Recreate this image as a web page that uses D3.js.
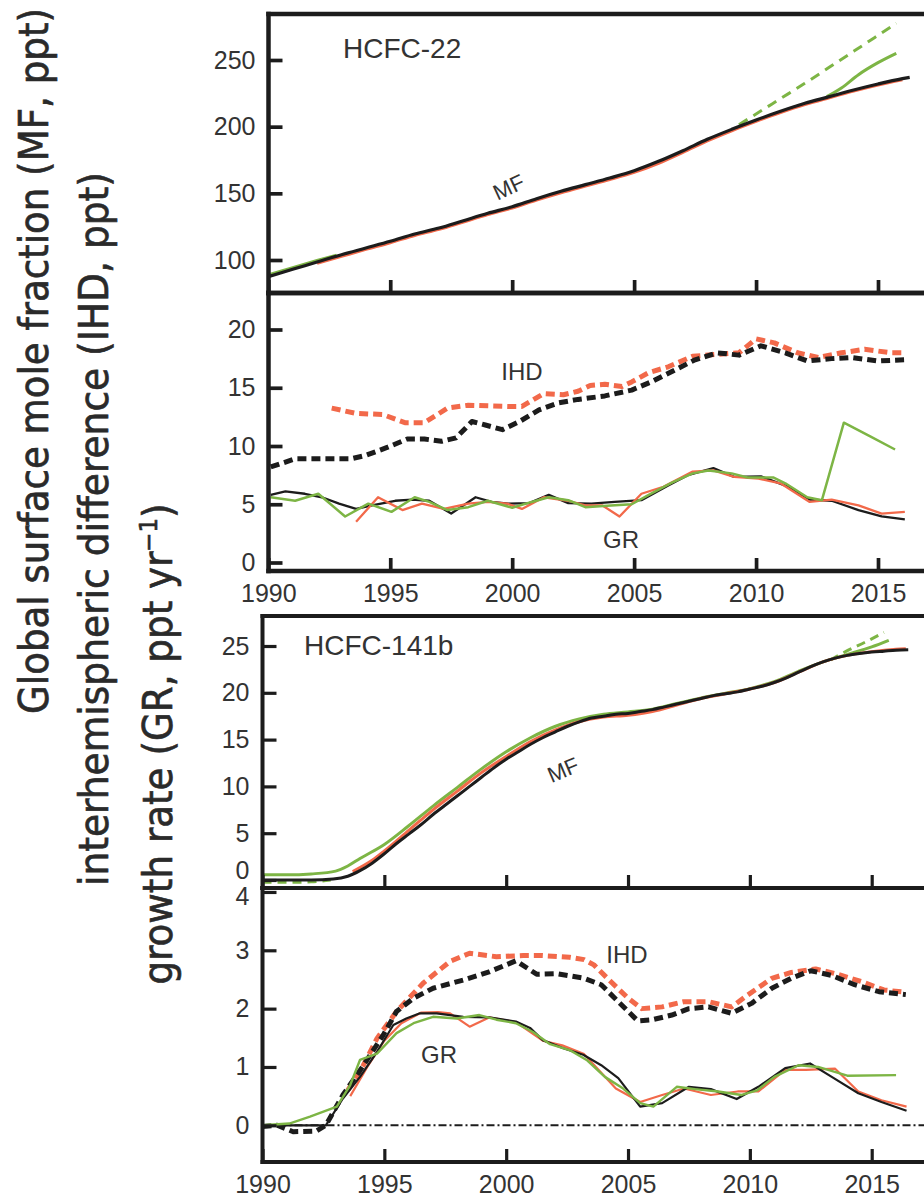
<!DOCTYPE html>
<html><head><meta charset="utf-8">
<script src="https://cdn.jsdelivr.net/npm/d3@7"></script>
<style>
html,body{margin:0;padding:0;background:#fff;}
svg{display:block;}
</style></head><body>
<svg id="chart" width="924" height="1198"></svg>
<script>
// ---------- tick values ----------
const yearTicks = [1990, 1995, 2000, 2005, 2010, 2015];
const ticks22MF = [100, 150, 200, 250];
const ticks22GR = [0, 5, 10, 15, 20];
const ticks141MF = [0, 5, 10, 15, 20, 25];
const ticks141GR = [0, 1, 2, 3, 4];

// ---------- HCFC-22 mole fraction (ppt) [year, value] ----------
const mf22Black = [[1990,87.5],[1991,93],[1992,98.5],[1993,104],[1994,109],[1995,114],[1996,119.5],[1997,124],[1998,129.5],[1999,135],[2000,140],[2001,146],[2002,151.5],[2003,156.5],[2004,161.5],[2005,167],[2006,174],[2007,182],[2008,190.5],[2009,198],[2010,205],[2011,211.5],[2012,217.5],[2013,222.5],[2014,227.5],[2015,232],[2016,236],[2016.3,237]];
const mf22Orange = [[1992,97.6],[1993,102.8],[1994,108],[1995,113],[1996,118.5],[1997,123.1],[1998,128.6],[1999,134.1],[2000,139.1],[2001,145],[2002,150.5],[2003,155.5],[2004,160.4],[2005,165.8],[2006,172.6],[2007,180.8],[2008,189.4],[2009,197],[2010,204],[2011,210.6],[2012,216.6],[2013,221.8],[2014,226.8],[2015,231.3],[2016,235.3]];
const mf22Green = [[1990,88.8],[1991,94.3],[1992,99.6],[1992.8,103.6],[1993.1,null],[2012.9,222.5],[2013.5,229],[2014.2,239],[2015,248],[2015.75,255]];
const mf22GreenDash = [[2009.3,201.5],[2010,209.5],[2011,221],[2012,232.5],[2013,244.5],[2014,256.5],[2015,268.5],[2015.75,277.5]];

// ---------- HCFC-22 IHD and GR ----------
const ihd22Black = [[1990.1,8.2],[1991.1,8.9],[1992.2,8.9],[1993.4,8.9],[1994.0,9.2],[1994.9,9.9],[1995.7,10.6],[1996.4,10.6],[1997.1,10.4],[1997.7,10.7],[1998.35,12.1],[1998.9,11.8],[1999.6,11.4],[2000.3,12.1],[2001.1,13.1],[2001.9,13.7],[2002.7,14.0],[2003.8,14.3],[2004.9,14.8],[2005.7,15.5],[2006.55,16.4],[2007.5,17.4],[2008.4,18.0],[2009.3,17.8],[2010.2,18.6],[2011.2,18.0],[2012.1,17.3],[2013.1,17.5],[2013.9,17.6],[2015.0,17.3],[2016.1,17.4]];
const ihd22Orange = [[1992.6,13.25],[1993.6,12.8],[1994.7,12.7],[1995.6,12.0],[1996.4,12.0],[1997.35,13.25],[1998.2,13.5],[1999.0,13.45],[1999.8,13.4],[2000.4,13.4],[2001.3,14.5],[2002.1,14.4],[2002.7,14.7],[2003.2,15.2],[2003.8,15.3],[2004.5,15.1],[2004.9,15.5],[2005.6,16.3],[2006.4,16.8],[2007.4,17.7],[2008.3,17.85],[2009.3,18.0],[2010.0,19.2],[2010.75,18.85],[2011.7,18.0],[2012.55,17.6],[2013.5,18.0],[2014.45,18.3],[2015.55,18.0],[2016.0,18.0]];
const gr22Black = [[1990.1,5.8],[1990.7,6.1],[1991.5,5.9],[1992.2,5.6],[1992.9,5.05],[1993.6,4.6],[1994.25,4.9],[1995.2,5.3],[1995.9,5.4],[1996.6,5.3],[1997.5,4.2],[1998.5,5.6],[1999.15,5.2],[1999.85,5.05],[2000.7,5.1],[2001.5,5.8],[2002.3,5.1],[2003.25,5.05],[2004.2,5.2],[2005.3,5.35],[2006.4,6.6],[2007.2,7.5],[2008.25,8.1],[2009.1,7.35],[2010.2,7.4],[2011.2,6.6],[2012.2,5.4],[2013.1,5.3],[2014.2,4.5],[2015.15,3.95],[2016.1,3.7]];
const gr22Orange = [[1993.6,3.5],[1994.5,5.6],[1995.5,4.5],[1996.3,5.05],[1997.2,4.6],[1998.2,5.05],[1999.0,5.2],[1999.8,5.05],[2000.4,4.6],[2001.3,5.6],[2002.3,5.3],[2003.0,4.9],[2003.7,4.9],[2004.4,3.95],[2005.3,5.9],[2006.2,6.5],[2007.4,7.8],[2008.25,7.9],[2009.1,7.35],[2010.1,7.2],[2011.0,6.8],[2012.2,5.2],[2013.1,5.4],[2014.2,4.9],[2015.15,4.2],[2016.1,4.35]];
const gr22Green = [[1990.1,5.6],[1991.1,5.3],[1992.05,5.9],[1993.15,3.95],[1994.1,5.05],[1995.05,4.35],[1996.0,5.6],[1996.6,5.2],[1997.35,4.5],[1998.2,4.75],[1999.0,5.3],[2000.0,4.7],[2000.8,5.2],[2001.5,5.6],[2002.3,5.35],[2003.0,4.75],[2004.05,4.9],[2004.9,5.0],[2005.6,5.8],[2006.55,6.85],[2007.4,7.65],[2008.05,7.9],[2009.0,7.65],[2009.65,7.3],[2010.7,7.3],[2011.2,6.8],[2012.1,5.6],[2012.7,5.35],[2013.6,12.0],[2014.7,10.8],[2015.7,9.7]];

// ---------- HCFC-141b mole fraction (ppt) ----------
const mf141Black = [[1990,0.0],[1991,0.0],[1992,0.0],[1992.9,0.1],[1993.5,0.4],[1994,1.0],[1994.5,1.8],[1995,2.8],[1995.5,3.9],[1996,4.9],[1996.5,5.9],[1997,7.0],[1997.6,8.2],[1998,9.0],[1998.5,10.0],[1999,11.0],[1999.5,12.0],[2000,12.9],[2000.5,13.7],[2001,14.5],[2001.5,15.2],[2002,15.8],[2002.5,16.4],[2003,16.9],[2003.5,17.3],[2004,17.5],[2004.5,17.7],[2005,17.8],[2005.5,18.0],[2006,18.2],[2006.5,18.5],[2007,18.8],[2007.5,19.1],[2008,19.4],[2008.5,19.7],[2009,19.9],[2009.5,20.1],[2010,20.4],[2010.5,20.7],[2011,21.1],[2011.5,21.6],[2012,22.2],[2012.5,22.8],[2013,23.3],[2013.5,23.7],[2014,24.0],[2014.5,24.2],[2015,24.35],[2015.5,24.45],[2016,24.55],[2016.5,24.6]];
const mf141Orange = [[1993.7,0.9],[1994.5,2.1],[1995,3.1],[1996,5.3],[1997,7.5],[1998,9.5],[1999,11.5],[2000,13.2],[2001,14.8],[2002,16.0],[2003,16.9],[2004,17.4],[2005,17.6],[2006,18.0],[2007,18.7],[2008,19.4],[2009,19.9],[2010,20.4],[2011,21.1],[2012,22.2],[2013,23.3],[2014,24.0],[2015,24.4],[2016,24.65],[2016.4,24.7]];
const mf141Green = [[1990,0.55],[1991,0.55],[1992,0.65],[1993,0.95],[1993.5,1.5],[1994,2.3],[1995,3.8],[1996,5.8],[1997,7.9],[1998,9.9],[1999,11.9],[2000,13.7],[2001,15.2],[2002,16.4],[2003,17.2],[2004,17.7],[2005,17.95],[2006,18.25],[2007,18.85],[2008,19.45],[2009,19.95],[2010,20.45],[2011,21.2],[2012,22.3],[2013,23.3],[2014,24.1],[2015,24.9],[2015.7,25.6]];
const mf141GreenDash = [[1990,-0.25],[1991,-0.25],[1992,-0.2],[1992.8,0.0],[1993,null],[2013.3,23.5],[2014,24.5],[2014.8,25.5],[2015.5,26.45]];

// ---------- HCFC-141b IHD and GR ----------
const ihd141Black = [[1990.0,-0.02],[1990.6,0.0],[1991.26,-0.11],[1992.2,-0.1],[1992.6,0.0],[1993.3,0.52],[1994.1,1.0],[1994.96,1.55],[1995.5,1.95],[1996.2,2.18],[1997.0,2.35],[1998.24,2.49],[1999.3,2.63],[2000.4,2.82],[2001.25,2.59],[2002.07,2.6],[2003.2,2.52],[2003.9,2.41],[2004.6,2.12],[2005.4,1.79],[2006.0,1.81],[2006.8,1.89],[2007.5,2.0],[2008.3,2.03],[2009.25,1.92],[2010.07,2.09],[2010.9,2.35],[2011.7,2.52],[2012.5,2.65],[2013.35,2.57],[2014.3,2.41],[2015.3,2.29],[2016.4,2.24]];
const ihd141Orange = [[1993.5,0.6],[1994.14,1.03],[1994.7,1.49],[1995.5,1.95],[1996.6,2.44],[1997.7,2.81],[1998.5,2.95],[1999.6,2.89],[2000.7,2.91],[2001.5,2.91],[2002.6,2.88],[2003.2,2.84],[2003.6,2.75],[2004.3,2.46],[2005.0,2.18],[2005.56,2.0],[2006.4,2.03],[2007.3,2.12],[2008.3,2.12],[2009.25,2.03],[2009.9,2.23],[2010.9,2.52],[2011.7,2.62],[2012.7,2.68],[2013.6,2.59],[2014.6,2.46],[2015.5,2.32],[2016.4,2.28]];
const gr141Black = [[1990.0,0.0],[1992.6,0.0],[1993.3,0.46],[1994.0,0.83],[1994.7,1.26],[1995.37,1.72],[1995.9,1.83],[1996.46,1.92],[1997.15,1.92],[1998.24,1.86],[1999.3,1.85],[2000.4,1.78],[2000.98,1.67],[2001.5,1.46],[2002.34,1.32],[2003.16,1.21],[2003.9,1.03],[2004.6,0.81],[2005.5,0.32],[2006.4,0.38],[2007.5,0.66],[2008.4,0.62],[2009.46,0.45],[2010.35,0.66],[2011.45,0.98],[2012.47,1.06],[2013.36,0.83],[2014.45,0.55],[2015.4,0.4],[2016.43,0.25]];
const gr141Orange = [[1993.6,0.5],[1994.3,1.0],[1995.0,1.45],[1995.7,1.75],[1996.5,1.93],[1997.2,1.94],[1997.7,1.92],[1998.5,1.69],[1999.3,1.85],[2000.4,1.77],[2001.5,1.45],[2002.3,1.37],[2003.2,1.22],[2004.5,0.63],[2005.5,0.4],[2006.4,0.52],[2007.3,0.63],[2008.4,0.52],[2009.5,0.58],[2010.35,0.58],[2011.45,0.95],[2012.3,0.95],[2013.5,0.97],[2014.45,0.58],[2015.4,0.43],[2016.43,0.32]];
const gr141Green = [[1990.0,0.0],[1991.1,0.03],[1991.95,0.15],[1993.05,0.32],[1993.6,0.69],[1994.0,1.12],[1994.7,1.23],[1995.5,1.58],[1996.2,1.75],[1997.0,1.86],[1997.97,1.83],[1998.9,1.89],[1999.6,1.81],[2000.4,1.75],[2001.1,1.6],[2001.8,1.39],[2002.6,1.29],[2003.3,1.12],[2004.05,0.83],[2004.8,0.63],[2005.5,0.38],[2006.04,0.32],[2007.0,0.66],[2007.75,0.62],[2008.7,0.58],[2009.66,0.52],[2010.3,0.6],[2011.0,0.83],[2012.0,1.03],[2012.8,1.0],[2014.0,0.85],[2016.0,0.86]];

// ---------- rendering ----------
const W = 924, H = 1198;
const INK = "#1c1c1c", TXT = "#333333", ORANGE = "#f2694a", GREEN = "#7db545";
const FONT = "'Liberation Sans', Arial, sans-serif";
const svg = d3.select("#chart");

const panels = [
  {id:"p1", left:268.5, top:14, bottom:293, xr:[268.3,878], yd:[100,250], yr:[260,60], ticks:ticks22MF, labels:false, lw:4.5},
  {id:"p2", left:268.5, top:293, bottom:571, xr:[268.3,878], yd:[0,20], yr:[562.5,329.5], ticks:ticks22GR, labels:true, lw:4.5},
  {id:"p3", left:262.5, top:616, bottom:888, xr:[262.5,871.7], yd:[0,25], yr:[880,646], ticks:ticks141MF, labels:false, lw:4},
  {id:"p4", left:262.5, top:888, bottom:1162, xr:[262.5,871.7], yd:[0,3], yr:[1125.3,950.3], ticks:ticks141GR, labels:true, lw:4}
];

const defs = svg.append("defs");
panels.forEach(p => {
  p.x = d3.scaleLinear().domain([1990, 2015]).range(p.xr);
  p.y = d3.scaleLinear().domain(p.yd).range(p.yr);
  defs.append("clipPath").attr("id", "clip-" + p.id)
    .append("rect").attr("x", p.left).attr("y", p.top)
    .attr("width", W - p.left).attr("height", p.bottom - p.top);
  p.g = svg.append("g");
  p.plot = p.g.append("g").attr("clip-path", `url(#clip-${p.id})`);
});

function draw(p, data, color, width, dash, curve) {
  const line = d3.line().defined(d => d[1] != null)
    .x(d => p.x(d[0])).y(d => p.y(d[1]))
    .curve(curve || d3.curveLinear);
  p.plot.append("path").datum(data)
    .attr("d", line).attr("fill", "none")
    .attr("stroke", color).attr("stroke-width", width)
    .attr("stroke-linejoin", "round")
    .attr("stroke-dasharray", dash || null);
}

const [p1, p2, p3, p4] = panels;
const smooth = d3.curveMonotoneX;

// panel 1
draw(p1, mf22GreenDash, GREEN, 3, "10,7", smooth);
draw(p1, mf22Green, GREEN, 3, null, smooth);
draw(p1, mf22Orange, ORANGE, 3.2, null, smooth);
draw(p1, mf22Black, INK, 3.2, null, smooth);

// panel 2
draw(p2, ihd22Orange, ORANGE, 5, "9,5");
draw(p2, ihd22Black, INK, 5, "9,5");
draw(p2, gr22Black, INK, 2.3);
draw(p2, gr22Orange, ORANGE, 2.3);
draw(p2, gr22Green, GREEN, 2.5);

// panel 3
draw(p3, mf141GreenDash, GREEN, 3, "9,6", smooth);
draw(p3, mf141Green, GREEN, 3, null, smooth);
draw(p3, mf141Orange, ORANGE, 3, null, smooth);
draw(p3, mf141Black, INK, 3, null, smooth);

// panel 4: zero reference line
p4.plot.append("line")
  .attr("x1", p4.left).attr("x2", W)
  .attr("y1", p4.y(0)).attr("y2", p4.y(0))
  .attr("stroke", INK).attr("stroke-width", 2)
  .attr("stroke-dasharray", "8,3,2,3");
draw(p4, ihd141Orange, ORANGE, 5, "9,5");
draw(p4, ihd141Black, INK, 5, "9,5");
draw(p4, gr141Orange, ORANGE, 2.2);
draw(p4, gr141Black, INK, 2.2);
draw(p4, gr141Green, GREEN, 2.4);

// axes and frames
panels.forEach(p => {
  const ya = p.g.append("g").attr("transform", `translate(${p.left},0)`)
    .call(d3.axisLeft(p.y).tickValues(p.ticks).tickSize(-14).tickPadding(13).tickSizeOuter(0)
      .tickFormat(d3.format("d")));
  ya.select(".domain").remove();
  ya.selectAll(".tick line").attr("stroke", INK).attr("stroke-width", p.lw - 0.8);
  ya.selectAll(".tick text").attr("fill", TXT).attr("font-size", 25).attr("font-family", FONT);
  if (p.id === "p3") ya.selectAll(".tick text").filter(d => d === 0).attr("transform", "translate(0,-10)");
  if (p.id === "p4") ya.selectAll(".tick text").filter(d => d === 4).attr("transform", "translate(0,5)");

  const xa = p.g.append("g").attr("transform", `translate(0,${p.bottom})`)
    .call(d3.axisBottom(p.x).tickValues(yearTicks).tickSize(-13).tickPadding(p.labels ? 13 : 0).tickSizeOuter(0)
      .tickFormat(p.labels ? d3.format("d") : () => ""));
  xa.select(".domain").remove();
  xa.selectAll(".tick line").attr("stroke", INK).attr("stroke-width", p.lw - 0.8);
  xa.selectAll(".tick text").attr("fill", TXT).attr("font-size", 25).attr("font-family", FONT);

  const frame = p.g.append("g").attr("stroke", INK).attr("stroke-width", p.lw).attr("stroke-linecap", "square");
  frame.append("line").attr("x1", p.left).attr("x2", W + 5).attr("y1", p.top).attr("y2", p.top);
  frame.append("line").attr("x1", p.left).attr("x2", W + 5).attr("y1", p.bottom).attr("y2", p.bottom);
  frame.append("line").attr("x1", p.left).attr("x2", p.left).attr("y1", p.top).attr("y2", p.bottom);
});

// in-plot labels
function label(x, y, text, size, rot) {
  svg.append("text").attr("transform", `translate(${x},${y}) rotate(${rot || 0})`)
    .attr("text-anchor", "middle").attr("font-family", FONT)
    .attr("font-size", size).attr("fill", TXT).text(text);
}
svg.append("text").attr("x", 343).attr("y", 58).attr("font-family", FONT)
  .attr("font-size", 28).attr("fill", TXT).text("HCFC-22");
svg.append("text").attr("x", 304).attr("y", 655).attr("font-family", FONT)
  .attr("font-size", 28).attr("fill", TXT).text("HCFC-141b");
label(512, 194, "MF", 22, -25);
label(566, 777, "MF", 22, -23);
label(522, 380, "IHD", 24, 0);
label(621, 548, "GR", 24, 0);
label(627, 963, "IHD", 24, 0);
label(439, 1063, "GR", 24, 0);

// y-axis title (three rotated lines)
const TFONT = "'Liberation Sans Narrow', 'DejaVu Sans Condensed', 'Liberation Sans', sans-serif";
function title(x, yc, len) {
  return svg.append("text").attr("transform", `translate(${x},${yc}) rotate(-90)`)
    .attr("text-anchor", "middle").attr("font-family", TFONT)
    .attr("font-size", 41).attr("fill", "#2a2a2a")
    .attr("stroke", "#2a2a2a").attr("stroke-width", 0.6)
    .attr("textLength", len).attr("lengthAdjust", "spacingAndGlyphs");
}
title(48, 361, 706).text("Global surface mole fraction (MF, ppt)");
title(108, 529, 714).text("interhemispheric difference (IHD, ppt)");
const t3 = title(172, 744, 481);
t3.append("tspan").text("growth rate (GR, ppt yr");
t3.append("tspan").attr("font-size", 25).attr("dy", -15).text("\u22121");
t3.append("tspan").attr("dy", 15).text(")");
</script>
</body></html>
